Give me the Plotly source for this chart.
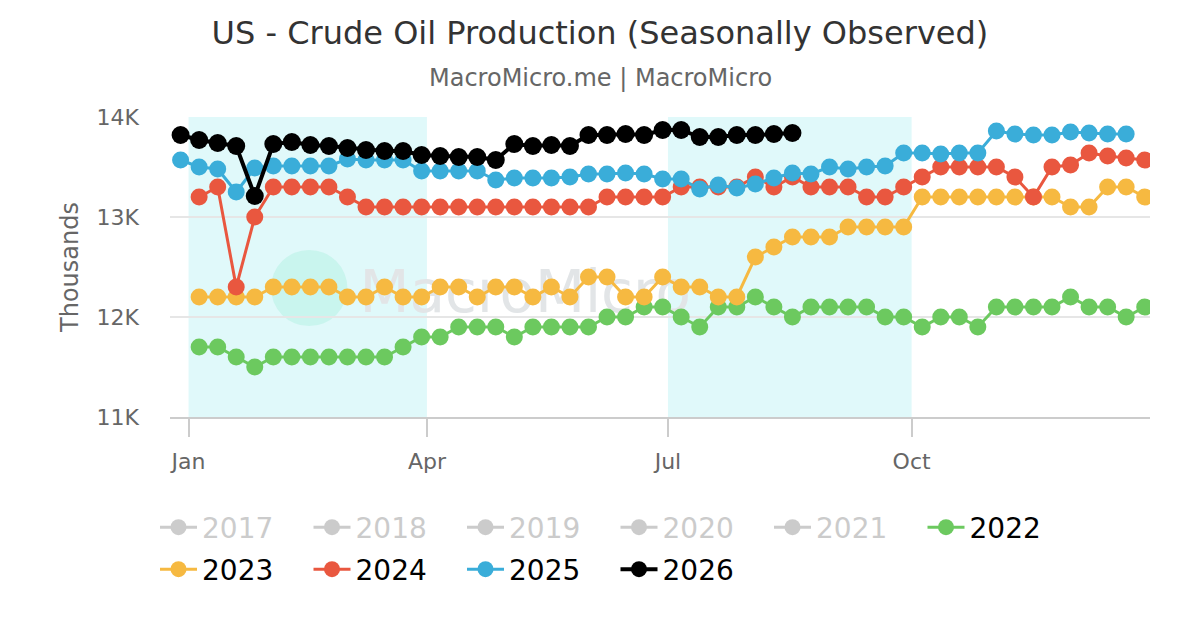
import datetime as dt
import plotly.graph_objects as go

# weekly slots mapped onto one reference year (seasonal view)
ref_start = dt.date(2000, 12, 29)
week_slots = [ref_start + dt.timedelta(days=7 * i) for i in range(53)]

hidden_years = ["2017", "2018", "2019", "2020", "2021"]

p2022 = [11700, 11700, 11600, 11500, 11600, 11600, 11600, 11600, 11600, 11600,
         11600, 11700, 11800, 11800, 11900, 11900, 11900, 11800, 11900, 11900,
         11900, 11900, 12000, 12000, 12100, 12100, 12000, 11900, 12100, 12100,
         12200, 12100, 12000, 12100, 12100, 12100, 12100, 12000, 12000, 11900,
         12000, 12000, 11900, 12100, 12100, 12100, 12100, 12200, 12100, 12100,
         12000, 12100]
p2023 = [12200, 12200, 12200, 12200, 12300, 12300, 12300, 12300, 12200, 12200,
         12300, 12200, 12200, 12300, 12300, 12200, 12300, 12300, 12200, 12300,
         12200, 12400, 12400, 12200, 12200, 12400, 12300, 12300, 12200, 12200,
         12600, 12700, 12800, 12800, 12800, 12900, 12900, 12900, 12900, 13200,
         13200, 13200, 13200, 13200, 13200, 13200, 13200, 13100, 13100, 13300,
         13300, 13200]
p2024 = [13200, 13300, 12300, 13000, 13300, 13300, 13300, 13300, 13200, 13100,
         13100, 13100, 13100, 13100, 13100, 13100, 13100, 13100, 13100, 13100,
         13100, 13100, 13200, 13200, 13200, 13200, 13300, 13300, 13300, 13300,
         13400, 13300, 13400, 13300, 13300, 13300, 13200, 13200, 13300, 13400,
         13500, 13500, 13500, 13500, 13400, 13200, 13500, 13520, 13640, 13610,
         13590, 13570]
p2025 = [13570, 13500, 13480, 13250, 13490, 13510, 13510, 13510, 13510, 13580,
         13570, 13570, 13570, 13460, 13460, 13460, 13460, 13370, 13390, 13390,
         13390, 13400, 13430, 13430, 13440, 13430, 13380, 13380, 13280, 13320,
         13290, 13330, 13390, 13440, 13430, 13500, 13480, 13500, 13510, 13640,
         13640, 13630, 13640, 13640, 13860, 13830, 13820, 13820, 13850, 13840,
         13830, 13830]
p2026 = [13820, 13770, 13740, 13710, 13210, 13730, 13750, 13720, 13710, 13690,
         13670, 13660, 13660, 13620, 13610, 13600, 13600, 13570, 13730, 13710,
         13720, 13710, 13820, 13820, 13830, 13820, 13870, 13870, 13800, 13800,
         13820, 13820, 13830, 13840]

y_ticks = [11000, 12000, 13000, 14000]
y_ticktext = ["11K", "12K", "13K", "14K"]
x_ticks = ["2001-01-01", "2001-04-01", "2001-07-01", "2001-10-01"]

fig = go.Figure()

# years switched off in the legend
for yr in hidden_years:
    fig.add_trace(go.Scatter(x=[None], y=[None], mode='lines+markers', visible='legendonly',
                             name=f'<span style="color:#999999">{yr}</span>', legend='legend',
                             line=dict(color='#999999', width=3), marker=dict(size=16)))

series = [
    ("2022", p2022, week_slots[1:], '#6CC95F', 3, 17, 'legend'),
    ("2023", p2023, week_slots[1:], '#F6B941', 3, 17, 'legend2'),
    ("2024", p2024, week_slots[1:], '#E9573F', 3, 17, 'legend2'),
    ("2025", p2025, week_slots, '#3AADD9', 3, 17, 'legend2'),
    ("2026", p2026, week_slots, '#000000', 4, 18, 'legend2'),
]
for name, vals, xs, color, lw, ms, lg in series:
    fig.add_trace(go.Scatter(x=xs[:len(vals)], y=vals, mode='lines+markers', name=name, legend=lg,
                             line=dict(color=color, width=lw),
                             marker=dict(color=color, size=ms)))

# shaded quarters
band = '#E0F9FA'
for x0, x1 in [("2001-01-01", "2001-04-01"), ("2001-07-01", "2001-10-01")]:
    fig.add_shape(type='rect', xref='x', yref='paper', x0=x0, x1=x1, y0=0, y1=1,
                  fillcolor=band, line_width=0, layer='below')

# watermark
fig.add_shape(type='circle', xref='paper', yref='paper', x0=0.103, x1=0.181, y0=0.303, y1=0.557,
              fillcolor='#C6F4EC', line_width=0, layer='between', opacity=0.9)
fig.add_shape(type='rect', xref='paper', yref='paper', x0=0.195, x1=0.53, y0=0.33, y1=0.53,
              line_width=0, fillcolor='rgba(0,0,0,0)', layer='between',
              label=dict(text='MacroMicro', font=dict(size=58, color='#E2E5E7', family='DejaVu Sans')))

legend_style = dict(orientation='h', xanchor='left', yanchor='top', x=-0.0153,
                    font=dict(size=28, color='#000000'), entrywidth=101.5, itemwidth=37,
                    tracegroupgap=0, itemclick=False, itemdoubleclick=False)

# page body adds an 8px offset, so the layout is placed 8px up/left
fig.update_layout(
    width=1200, height=630,
    paper_bgcolor='white', plot_bgcolor='white',
    font=dict(family='DejaVu Sans', color='#666666'),
    title=dict(text='US - Crude Oil Production (Seasonally Observed)', x=0.4933, xanchor='center',
               y=0.9603, yanchor='middle', font=dict(size=32, color='#333333')),
    margin=dict(l=162, r=58, t=109, b=221),
    showlegend=True,
    legend=dict(legend_style, y=-0.285),
    legend2=dict(legend_style, y=-0.425),
    annotations=[dict(text='MacroMicro.me | MacroMicro', xref='paper', yref='paper',
                      x=0.4388, y=1.13, xanchor='center', yanchor='middle', showarrow=False,
                      font=dict(size=24, color='#666666'))],
)
fig.update_xaxes(type='date', range=['2000-12-25', '2001-12-30'], tickvals=x_ticks, tickformat='%b',
                 showgrid=False, showline=True, linecolor='#CCCCCC', linewidth=2,
                 ticks='outside', ticklen=18, tickcolor='#CCCCCC', tickwidth=2, ticklabelstandoff=6,
                 tickfont=dict(size=22, color='#666666'), zeroline=False)
fig.update_yaxes(range=[11000, 14000], tickvals=y_ticks, ticktext=y_ticktext,
                 showgrid=True, gridcolor='#E6E6E6', gridwidth=2, zeroline=False,
                 tickfont=dict(size=22, color='#666666'), ticks='', ticklabelstandoff=30,
                 title=dict(text='Thousands', font=dict(size=24, color='#666666'), standoff=11))

fig.write_html("out.html")
